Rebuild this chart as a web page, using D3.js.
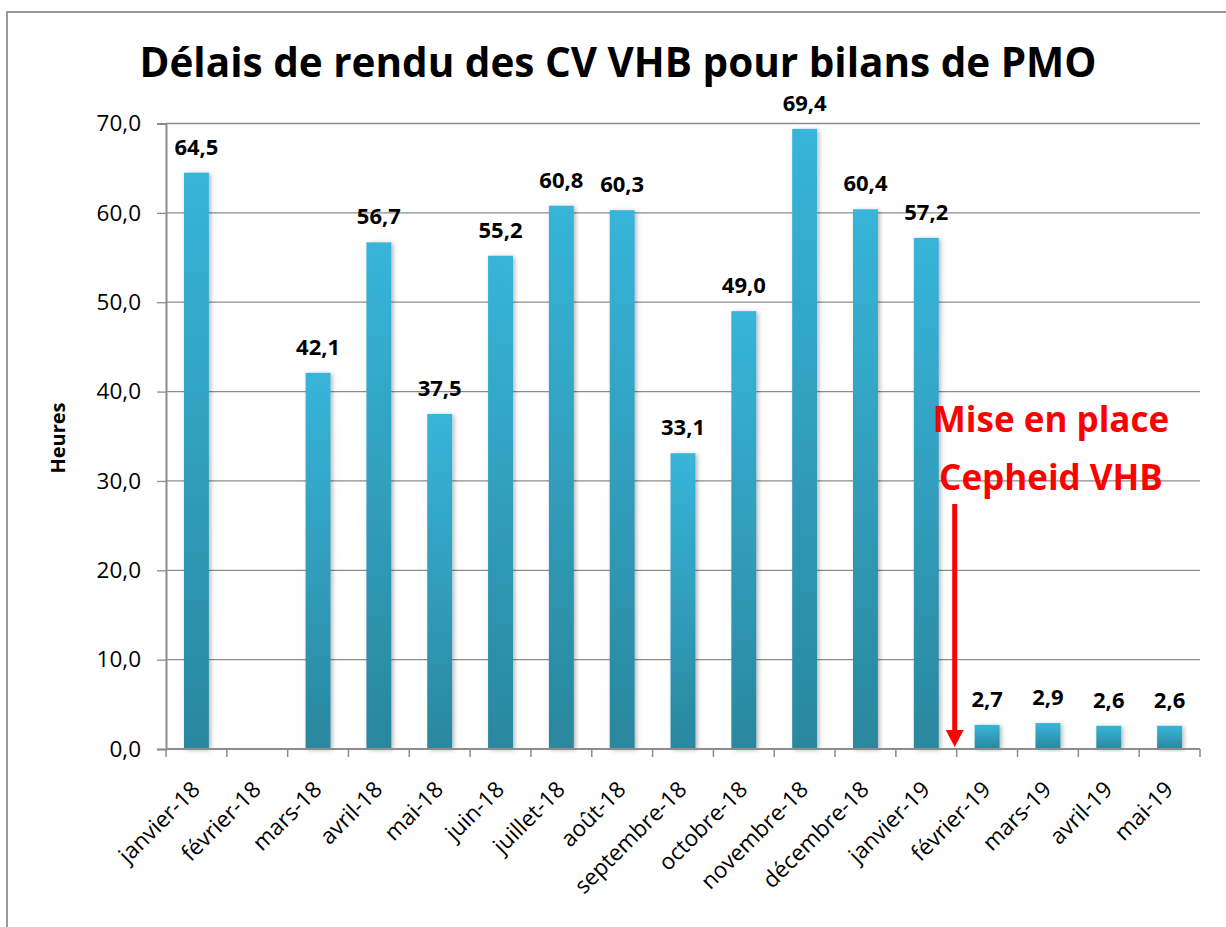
<!DOCTYPE html>
<html>
<head>
<meta charset="utf-8">
<script src="https://cdn.jsdelivr.net/npm/d3@7"></script>
<style>
  html, body { margin: 0; padding: 0; background: #fff; }
  svg { display: block; font-family: "Open Sans", "Noto Sans", sans-serif; }
</style>
</head>
<body>
<svg id="chart" width="1226" height="927"></svg>
<script>
// Monthly turnaround (hours) for HBV viral load results
const categories = ["janvier-18", "février-18", "mars-18", "avril-18", "mai-18", "juin-18",
  "juillet-18", "août-18", "septembre-18", "octobre-18", "novembre-18", "décembre-18",
  "janvier-19", "février-19", "mars-19", "avril-19", "mai-19"];
const values = [64.5, null, 42.1, 56.7, 37.5, 55.2, 60.8, 60.3, 33.1, 49.0, 69.4, 60.4,
  57.2, 2.7, 2.9, 2.6, 2.6];
const yTicks = [0, 10, 20, 30, 40, 50, 60, 70];
const titleText = "Délais de rendu des CV VHB pour bilans de PMO";
const yTitle = "Heures";
const noteLines = ["Mise en place", "Cepheid VHB"];
const noteMonth = "février-19";

const svg = d3.select("#chart");
const plotLeft = 166, plotRight = 1200, plotTop = 123.5, plotBottom = 749;

const fmt = v => d3.format(".1f")(v).replace(".", ",");

const x = d3.scaleBand().domain(categories).range([plotLeft, plotRight])
  .paddingInner(0.59).paddingOuter(0.295);
const y = d3.scaleLinear().domain([0, 70]).range([plotBottom, plotTop]);

const defs = svg.append("defs");
const grad = defs.append("linearGradient").attr("id", "barFill")
  .attr("x1", 0).attr("y1", 0).attr("x2", 0).attr("y2", 1);
grad.append("stop").attr("offset", "0%").attr("stop-color", "#37b5da");
grad.append("stop").attr("offset", "100%").attr("stop-color", "#2a879e");
const shadow = defs.append("filter").attr("id", "barShadow")
  .attr("x", "-50%").attr("y", "-10%").attr("width", "200%").attr("height", "120%");
shadow.append("feDropShadow").attr("dx", 2).attr("dy", 1).attr("stdDeviation", 2)
  .attr("flood-color", "#000").attr("flood-opacity", 0.28);

// outer chart frame
svg.append("rect").attr("x", 7).attr("y", 12).attr("width", 1260).attr("height", 960)
  .attr("fill", "none").attr("stroke", "#9a9a9a").attr("stroke-width", 2);

// title
svg.append("text").attr("x", 618).attr("y", 77).attr("text-anchor", "middle")
  .attr("font-size", 41).attr("font-weight", 700).attr("fill", "#000")
  .attr("textLength", 957).attr("lengthAdjust", "spacingAndGlyphs")
  .text(titleText);

// horizontal gridlines
svg.append("g").selectAll("line").data(yTicks.filter(d => d > 0)).join("line")
  .attr("x1", plotLeft).attr("x2", plotRight)
  .attr("y1", d => y(d)).attr("y2", d => y(d))
  .attr("stroke", "#8c8c8c").attr("stroke-width", 1.3);

// y axis
const yAxis = svg.append("g").attr("transform", `translate(${plotLeft},0)`)
  .call(d3.axisLeft(y).tickValues(yTicks).tickFormat(fmt).tickSize(9).tickPadding(16));
yAxis.select(".domain").attr("stroke", "#8c8c8c").attr("stroke-width", 2);
yAxis.selectAll(".tick line").attr("stroke", "#8c8c8c").attr("stroke-width", 1.3);
yAxis.selectAll(".tick text").attr("font-size", 22.5).attr("fill", "#000")
  .attr("font-family", "'Open Sans', sans-serif");

// y axis title
svg.append("text").attr("transform", "translate(65,438) rotate(-90)")
  .attr("text-anchor", "middle").attr("font-size", 20).attr("font-weight", 700)
  .text(yTitle);

// bars
const data = categories.map((c, i) => ({ c, v: values[i] })).filter(d => d.v != null);
svg.append("g").selectAll("rect").data(data).join("rect")
  .attr("x", d => x(d.c)).attr("width", x.bandwidth())
  .attr("y", d => y(d.v)).attr("height", d => y(0) - y(d.v))
  .attr("fill", "url(#barFill)").attr("filter", "url(#barShadow)");

// x axis line and boundary ticks
const step = x.step();
const bounds = d3.range(categories.length + 1).map(i => plotLeft + i * step);
svg.append("line").attr("x1", plotLeft).attr("x2", plotRight).attr("y1", plotBottom).attr("y2", plotBottom)
  .attr("stroke", "#8c8c8c").attr("stroke-width", 2);
svg.append("g").selectAll("line").data(bounds).join("line")
  .attr("x1", d => d).attr("x2", d => d).attr("y1", plotBottom).attr("y2", plotBottom + 8)
  .attr("stroke", "#8c8c8c").attr("stroke-width", 1.5);

// category labels, rotated
svg.append("g").selectAll("text").data(categories).join("text")
  .attr("transform", d => `translate(${x(d) + x.bandwidth() / 2 + 5},${plotBottom + 42}) rotate(-45)`)
  .attr("text-anchor", "end").attr("font-size", 22.5).attr("fill", "#000")
  .text(d => d);

// value labels
svg.append("g").selectAll("text").data(data).join("text")
  .attr("x", d => x(d.c) + x.bandwidth() / 2).attr("y", d => y(d.v) - 18)
  .attr("text-anchor", "middle").attr("font-size", 22).attr("font-weight", 700)
  .text(d => fmt(d.v));

// annotation: change of assay
const arrowX = x(noteMonth) - (step - x.bandwidth()) / 2 - 2;
svg.append("g").selectAll("text").data(noteLines).join("text")
  .attr("x", 1051).attr("y", (d, i) => 432 + i * 58)
  .attr("text-anchor", "middle").attr("font-size", 35).attr("font-weight", 700)
  .attr("fill", "#ff0000").text(d => d);
svg.append("line").attr("x1", arrowX).attr("x2", arrowX).attr("y1", 504).attr("y2", 732)
  .attr("stroke", "#ff0000").attr("stroke-width", 5);
svg.append("path")
  .attr("d", `M${arrowX - 9},730 L${arrowX + 9},730 L${arrowX},747 Z`)
  .attr("fill", "#ff0000");
</script>
</body>
</html>
